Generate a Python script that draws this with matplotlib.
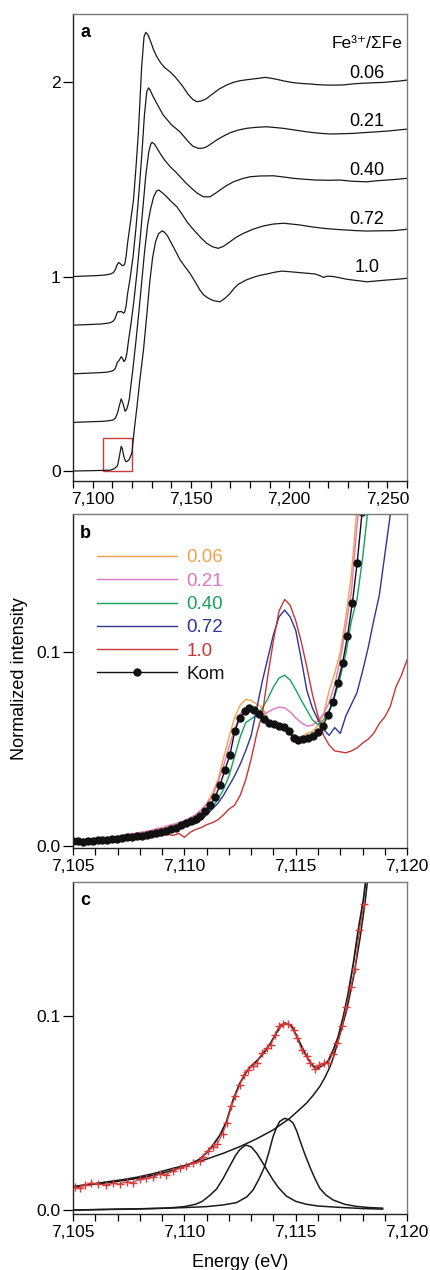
import matplotlib
matplotlib.use("Agg")
import matplotlib.pyplot as plt
import matplotlib.patches as patches
from matplotlib.ticker import MultipleLocator, FixedLocator, FuncFormatter

plt.rcParams['font.family'] = ['Liberation Sans', 'DejaVu Sans']

# ---------------- panel a : XANES spectra (normalized, offset) ----------------
ratios_a = ['0.06', '0.21', '0.40', '0.72', '1.0']

E_a_006 = [7090, 7095, 7100, 7104, 7107, 7109, 7110.5, 7111.5, 7112.5, 7113.2, 7114, 7114.8,
           7115.5, 7116.3, 7117, 7117.7, 7119, 7120.7, 7122, 7123.2, 7124.9, 7126.1, 7127,
           7128, 7129.2, 7130.8, 7132.6, 7134.5, 7136.5, 7139.3, 7141.9, 7145.3, 7148.7,
           7151, 7153, 7155, 7157.5, 7161.4, 7164.5, 7168.2, 7171.5, 7175, 7178.5, 7181.8,
           7185, 7187.7, 7190.5, 7193.6, 7197.5, 7202.1, 7206, 7210.5, 7214, 7217.3, 7222,
           7227.5, 7232, 7236, 7240, 7244.5, 7248, 7252.1, 7256, 7260]
I_a_006 = [0.0, 0.002, 0.004, 0.006, 0.009, 0.013, 0.02, 0.035, 0.062, 0.072, 0.066, 0.058,
           0.056, 0.064, 0.105, 0.17, 0.265, 0.39, 0.56, 0.736, 1.079, 1.233, 1.255,
           1.245, 1.216, 1.17, 1.13, 1.1, 1.075, 1.053, 1.027, 0.985, 0.935,
           0.91, 0.899, 0.902, 0.912, 0.942, 0.965, 0.985, 0.998, 1.007, 1.012, 1.016,
           1.02, 1.024, 1.02, 1.014, 1.005, 0.997, 0.993, 0.99, 0.987, 0.985, 0.984,
           0.985, 0.99, 0.993, 0.995, 0.997, 0.998, 1.002, 1.005, 1.01]

E_a_021 = [7090, 7095, 7100, 7104, 7107, 7109, 7110.5, 7111.5, 7112.3, 7113, 7113.6, 7114.4,
           7115, 7115.6, 7116.3, 7117, 7117.7, 7119, 7120.5, 7122, 7123.5, 7125, 7126.3,
           7127.5, 7128.4, 7129.2, 7130.5, 7132.6, 7135.9, 7140.2, 7144.4, 7148.7, 7151,
           7153.8, 7156, 7158, 7163.1, 7166.5, 7169.9, 7174, 7178.3, 7183, 7188.5, 7193,
           7197, 7203, 7208.9, 7215, 7220.7, 7226, 7232.6, 7238, 7244.5, 7250, 7255, 7260]
I_a_021 = [0.0, 0.002, 0.004, 0.006, 0.009, 0.013, 0.021, 0.037, 0.062, 0.071, 0.068, 0.071,
           0.067, 0.062, 0.068, 0.1, 0.16, 0.24, 0.35, 0.5, 0.68, 0.88, 1.08,
           1.2, 1.22, 1.209, 1.18, 1.14, 1.08, 1.029, 0.994, 0.943, 0.92,
           0.909, 0.91, 0.917, 0.952, 0.972, 0.989, 1.003, 1.012, 1.017, 1.02, 1.016,
           1.012, 1.003, 0.994, 0.987, 0.983, 0.984, 0.986, 0.99, 0.994, 0.998, 1.003, 1.008]

E_a_040 = [7090, 7095, 7100, 7104, 7107, 7109, 7110.5, 7111.5, 7112.5, 7113.3, 7114.5, 7115.2,
           7115.9, 7116.6, 7117.3, 7118.2, 7119.5, 7121, 7122.5, 7124, 7125.5, 7127, 7128.5,
           7129.5, 7130.2, 7131.5, 7134.3, 7136.5, 7139.4, 7142, 7144.5, 7147.5, 7150.4,
           7153, 7156.3, 7159.7, 7162, 7164.8, 7168, 7171.6, 7176, 7180.1, 7185, 7191.9,
           7197, 7202.1, 7208, 7214, 7220, 7225.9, 7232, 7239.5, 7244, 7249.6, 7255, 7260]
I_a_040 = [0.0, 0.002, 0.004, 0.006, 0.008, 0.012, 0.017, 0.028, 0.058, 0.067, 0.088, 0.078,
           0.063, 0.072, 0.1, 0.17, 0.26, 0.38, 0.52, 0.68, 0.85, 1.02, 1.14,
           1.18, 1.19, 1.18, 1.133, 1.1, 1.065, 1.04, 1.013, 0.98, 0.953,
           0.93, 0.91, 0.91, 0.925, 0.945, 0.967, 0.987, 1.003, 1.013, 1.017, 1.018,
           1.012, 1.005, 1.0, 0.996, 0.995, 0.996, 0.99, 0.987, 0.992, 0.996, 1.0, 1.005]

E_a_072 = [7090, 7095, 7100, 7104, 7107, 7109, 7110.5, 7111.5, 7112.6, 7113.5, 7114.5, 7115.3,
           7116.5, 7117.3, 7118, 7118.7, 7119.2, 7120.5, 7122, 7123.5, 7125, 7126.4, 7128,
           7129.5, 7131, 7132.5, 7133.6, 7135.5, 7137.7, 7140, 7142.8, 7145.5, 7147.9,
           7150.5, 7153, 7155.5, 7158, 7161, 7163.9, 7166.5, 7169.9, 7173, 7176.7, 7181.5,
           7186.8, 7192, 7197, 7201, 7205.5, 7211, 7217.4, 7223, 7229.3, 7234, 7239.5,
           7246, 7253, 7260]
I_a_072 = [0.0, 0.002, 0.004, 0.005, 0.007, 0.01, 0.013, 0.022, 0.048, 0.085, 0.121, 0.1,
           0.057, 0.068, 0.092, 0.126, 0.17, 0.28, 0.42, 0.57, 0.73, 0.88, 1.02,
           1.1, 1.16, 1.19, 1.195, 1.18, 1.16, 1.135, 1.109, 1.07, 1.032,
           1.0, 0.972, 0.945, 0.921, 0.903, 0.895, 0.905, 0.929, 0.952, 0.972, 0.993,
           1.01, 1.02, 1.024, 1.02, 1.015, 1.006, 0.998, 0.993, 0.989, 0.986, 0.984,
           0.985, 0.986, 0.993]

E_a_100 = [7090, 7095, 7100, 7104, 7108, 7109, 7111, 7112.5, 7113, 7113.7, 7114.5, 7115,
           7115.9, 7116.7, 7117.2, 7118.5, 7119.5, 7120, 7121, 7122.5, 7124, 7125.8, 7127.5,
           7129, 7130.5, 7132, 7133.5, 7135.3, 7136.5, 7138, 7141, 7144.5, 7147, 7149.5,
           7152, 7154.6, 7156.5, 7158.9, 7161.5, 7164.8, 7167.5, 7169.9, 7172, 7174.1,
           7178, 7181.8, 7185, 7188.6, 7192.5, 7196.2, 7200, 7205.5, 7209, 7213.2, 7215.5,
           7217.4, 7219.5, 7222.5, 7226, 7229.3, 7234, 7239.5, 7244, 7249.6, 7255, 7260]
I_a_100 = [0.0, 0.001, 0.002, 0.003, 0.004, 0.005, 0.012, 0.026, 0.045, 0.084, 0.127, 0.116,
           0.072, 0.05, 0.048, 0.058, 0.082, 0.097, 0.2, 0.33, 0.47, 0.62, 0.8,
           0.97, 1.1, 1.18, 1.22, 1.235, 1.228, 1.21, 1.153, 1.085, 1.05, 1.016,
           0.975, 0.93, 0.905, 0.888, 0.876, 0.87, 0.89, 0.913, 0.94, 0.96,
           0.982, 0.996, 1.006, 1.013, 1.022, 1.028, 1.025, 1.02, 1.017, 1.013, 1.005,
           0.996, 1.002, 1.0, 0.993, 0.986, 0.98, 0.973, 0.977, 0.982, 0.986, 0.991]

offsets_a = [1.0, 0.75, 0.5, 0.25, 0.0]

# ---------------- panel b : pre-edge region ----------------
E_b = [7105.0, 7105.25, 7105.5, 7105.75, 7106.0, 7106.25, 7106.5, 7106.75, 7107.0, 7107.25,
       7107.5, 7107.75, 7108.0, 7108.25, 7108.5, 7108.75, 7109.0, 7109.25, 7109.5, 7109.75,
       7110.0, 7110.25, 7110.5, 7110.75, 7111.0, 7111.25, 7111.5, 7111.75, 7112.0, 7112.25,
       7112.5, 7112.75, 7113.0, 7113.25, 7113.5, 7113.75, 7114.0, 7114.25, 7114.5, 7114.75,
       7115.0, 7115.25, 7115.5, 7115.75, 7116.0, 7116.25, 7116.5, 7116.75, 7117.0, 7117.25,
       7117.5, 7117.75, 7118.0, 7118.25, 7118.5, 7118.75, 7119.0, 7119.25, 7119.5, 7119.75,
       7120.0]
I_b_006 = [0.0028, 0.003, 0.0032, 0.0035, 0.0038, 0.004, 0.0045, 0.0045, 0.005, 0.0055,
           0.006, 0.0062, 0.0068, 0.0075, 0.0078, 0.0085, 0.009, 0.0098, 0.0105, 0.0115,
           0.0125, 0.014, 0.0158, 0.0185, 0.022, 0.027, 0.034, 0.045, 0.056, 0.066,
           0.0725, 0.0755, 0.075, 0.073, 0.0715, 0.0655, 0.063, 0.062, 0.0605, 0.0585,
           0.0565, 0.0562, 0.058, 0.059, 0.062, 0.068, 0.08, 0.089, 0.1, 0.118,
           0.14, 0.175, 0.2]
I_b_021 = [0.003, 0.0032, 0.0035, 0.0035, 0.004, 0.004, 0.0042, 0.0048, 0.005, 0.0055,
           0.006, 0.0065, 0.007, 0.0075, 0.008, 0.009, 0.0095, 0.0105, 0.0112, 0.012,
           0.013, 0.0145, 0.0162, 0.0185, 0.0215, 0.0255, 0.0325, 0.041, 0.051, 0.06,
           0.068, 0.0712, 0.0705, 0.068, 0.0675, 0.069, 0.0705, 0.0715, 0.0712, 0.069,
           0.066, 0.0635, 0.0618, 0.0622, 0.0645, 0.068, 0.074, 0.083, 0.096, 0.113,
           0.131, 0.165, 0.19]
I_b_040 = [0.0025, 0.0025, 0.003, 0.003, 0.0032, 0.0035, 0.004, 0.0038, 0.0045, 0.005,
           0.0052, 0.0058, 0.006, 0.0068, 0.007, 0.0078, 0.0085, 0.0092, 0.0098, 0.0108,
           0.0115, 0.0125, 0.0135, 0.0148, 0.017, 0.0198, 0.024, 0.029, 0.036, 0.046,
           0.056, 0.0635, 0.0655, 0.0675, 0.071, 0.076, 0.082, 0.0865, 0.088, 0.0855,
           0.0805, 0.075, 0.07, 0.065, 0.0625, 0.065, 0.07, 0.077, 0.087, 0.099,
           0.116, 0.127, 0.148, 0.174, 0.2]
I_b_072 = [0.0028, 0.003, 0.003, 0.0035, 0.0035, 0.004, 0.004, 0.0045, 0.0045, 0.005,
           0.0055, 0.0055, 0.006, 0.0065, 0.007, 0.0075, 0.008, 0.0085, 0.009, 0.0095,
           0.0105, 0.011, 0.0115, 0.0135, 0.016, 0.019, 0.022, 0.026, 0.031, 0.036,
           0.042, 0.049, 0.057, 0.071, 0.085, 0.097, 0.109, 0.118, 0.1215, 0.118,
           0.111, 0.096, 0.08, 0.071, 0.065, 0.06, 0.057, 0.061, 0.058, 0.067,
           0.073, 0.079, 0.09, 0.102, 0.116, 0.129, 0.15, 0.171, 0.19]
I_b_100 = [0.003, 0.003, 0.0025, 0.003, 0.003, 0.0035, 0.0035, 0.004, 0.004, 0.004,
           0.0045, 0.0045, 0.005, 0.0045, 0.005, 0.0048, 0.0055, 0.006, 0.0055, 0.0065,
           0.0045, 0.007, 0.0085, 0.0095, 0.011, 0.012, 0.0135, 0.016, 0.019, 0.021,
           0.026, 0.034, 0.045, 0.058, 0.068, 0.088, 0.106, 0.121, 0.127, 0.124,
           0.116, 0.105, 0.092, 0.078, 0.067, 0.057, 0.052, 0.049, 0.0485, 0.048,
           0.049, 0.0505, 0.053, 0.055, 0.058, 0.063, 0.0665, 0.072, 0.082, 0.088,
           0.096]
series_b = ['0.06', '0.21', '0.40', '0.72', '1.0']
colors_b = ['#f3a24b', '#e173c3', '#16a35c', '#2d3596', '#c93536']

E_kom = [7105.00, 7105.22, 7105.44, 7105.66, 7105.88, 7106.10, 7106.32, 7106.54, 7106.76,
         7106.98, 7107.20, 7107.42, 7107.64, 7107.86, 7108.08, 7108.30, 7108.52, 7108.74,
         7108.96, 7109.18, 7109.40, 7109.62, 7109.84, 7110.06, 7110.28, 7110.50, 7110.72,
         7110.94, 7111.16, 7111.38, 7111.60, 7111.82, 7112.04, 7112.26, 7112.48, 7112.70,
         7112.92, 7113.14, 7113.36, 7113.58, 7113.80, 7114.02, 7114.24, 7114.46, 7114.68,
         7114.90, 7115.12, 7115.34, 7115.56, 7115.78, 7116.00, 7116.22, 7116.44, 7116.66,
         7116.88, 7117.10, 7117.32, 7117.54, 7117.76, 7117.98]
I_kom = [0.0024, 0.0025, 0.0022, 0.0027, 0.0028, 0.0033, 0.0029, 0.0033, 0.0037,
         0.0036, 0.0042, 0.0045, 0.0047, 0.0050, 0.0054, 0.0058, 0.0063, 0.0066,
         0.0071, 0.0078, 0.0086, 0.0095, 0.0107, 0.0118, 0.0128, 0.0139, 0.0153,
         0.0178, 0.0212, 0.0252, 0.0315, 0.0392, 0.0468, 0.0590, 0.0660, 0.0695,
         0.0709, 0.0698, 0.0680, 0.0655, 0.0636, 0.0628, 0.0620, 0.0612, 0.0590,
         0.0555, 0.0545, 0.0553, 0.0556, 0.0567, 0.0585, 0.0618, 0.0675, 0.0740,
         0.0840, 0.0940, 0.1080, 0.1250, 0.1460, 0.1720]

# ---------------- panel c : pre-edge fit of Kom ----------------
E_c_data = [7105.07, 7105.3, 7105.52, 7105.82, 7106.12, 7106.5, 7106.8, 7107.1, 7107.4,
            7107.69, 7107.99, 7108.29, 7108.59, 7108.89, 7109.19, 7109.49, 7109.79, 7110.09,
            7110.39, 7110.69, 7110.84, 7111.06, 7111.29, 7111.47, 7111.71, 7111.89, 7112.11,
            7112.29, 7112.49, 7112.66, 7112.86, 7113.08, 7113.26, 7113.47, 7113.7, 7113.88,
            7114.07, 7114.26, 7114.44, 7114.67, 7114.9, 7115.07, 7115.27, 7115.49, 7115.64,
            7115.87, 7116.06, 7116.27, 7116.46, 7116.66, 7116.87, 7117.09, 7117.26, 7117.47,
            7117.66, 7117.86, 7118.07]
I_c_data = [0.012, 0.0112, 0.0129, 0.0141, 0.0134, 0.0129, 0.0137, 0.0134, 0.0146,
            0.0141, 0.0158, 0.0163, 0.0168, 0.0185, 0.018, 0.0203, 0.0215, 0.0227,
            0.0241, 0.025, 0.0275, 0.0306, 0.0323, 0.034, 0.0392, 0.0447, 0.0533,
            0.0588, 0.0644, 0.0696, 0.0722, 0.0742, 0.0756, 0.0808, 0.0833, 0.085,
            0.0902, 0.0948, 0.0959, 0.0959, 0.0924, 0.0885, 0.0821, 0.079, 0.0756,
            0.0725, 0.0747, 0.0756, 0.0756, 0.0804, 0.0859, 0.0945, 0.1045, 0.1148,
            0.124, 0.1443, 0.1576]

E_c_fit = [7105, 7105.5, 7106, 7106.5, 7107, 7107.5, 7108, 7108.5, 7109, 7109.5, 7110,
           7110.4, 7110.69, 7111, 7111.29, 7111.59, 7111.89, 7112.18, 7112.48, 7112.75,
           7112.95, 7113.23, 7113.47, 7113.7, 7113.85, 7114.15, 7114.35, 7114.52, 7114.7,
           7114.82, 7115.0, 7115.19, 7115.49, 7115.7, 7115.87, 7116.0, 7116.17, 7116.35,
           7116.46, 7116.69, 7116.91, 7117.14, 7117.36, 7117.59, 7117.81, 7118.04, 7118.2]
I_c_fit = [0.012, 0.0128, 0.0135, 0.0141, 0.0148, 0.0157, 0.0166, 0.0177, 0.019, 0.0205, 0.0225,
           0.0245, 0.0262, 0.0295, 0.0335, 0.0385, 0.0455, 0.0565, 0.065, 0.0705,
           0.0735, 0.0765, 0.0795, 0.083, 0.0855, 0.0915, 0.095, 0.0962, 0.0955,
           0.0945, 0.0905, 0.0859, 0.079, 0.0752, 0.0732, 0.0732, 0.0742, 0.0755,
           0.0768, 0.0825, 0.0893, 0.0997, 0.1117, 0.1271, 0.1443, 0.1598, 0.175]

E_c_bg = [7105, 7105.75, 7106.5, 7107.25, 7108, 7108.75, 7109.49, 7110.24, 7110.99, 7111.74,
          7112.48, 7113.23, 7113.98, 7114.73, 7115.1, 7115.48, 7115.78, 7116.08, 7116.3,
          7116.53, 7116.69, 7116.99, 7117.29, 7117.59, 7117.89, 7118.11, 7118.25]
I_c_bg = [0.012, 0.0132, 0.0145, 0.0157, 0.0172, 0.0192, 0.0215, 0.0236, 0.0262, 0.0292,
          0.0326, 0.0366, 0.0412, 0.0472, 0.051, 0.055, 0.059, 0.0636, 0.068,
          0.0735, 0.0785, 0.0905, 0.103, 0.1195, 0.14, 0.158, 0.172]

E_c_pk1 = [7105, 7106, 7107, 7108, 7109, 7109.5, 7110, 7110.5, 7110.8, 7111.1, 7111.44, 7111.75,
           7112.03, 7112.3, 7112.48, 7112.75, 7113.0, 7113.25, 7113.53, 7113.75, 7113.98,
           7114.25, 7114.58, 7115.0, 7115.48, 7116, 7116.98, 7118, 7118.9]
I_c_pk1 = [0.0, 0.0003, 0.0005, 0.0007, 0.001, 0.0013, 0.0018, 0.003, 0.0045, 0.0072, 0.0108,
           0.0165, 0.0225, 0.0282, 0.031, 0.0335, 0.0325, 0.0292, 0.0241, 0.0198, 0.0155,
           0.0112, 0.0072, 0.0045, 0.003, 0.0021, 0.0014, 0.0008, 0.0005]

E_c_pk2 = [7105, 7106, 7107, 7108, 7109, 7110, 7111, 7111.7, 7112.33, 7112.8, 7113.08, 7113.35,
           7113.6, 7113.8, 7113.98, 7114.15, 7114.28, 7114.5, 7114.7, 7114.88, 7115.05,
           7115.18, 7115.4, 7115.63, 7115.85, 7116.08, 7116.35, 7116.68, 7117.2, 7117.72,
           7118.3, 7118.9]
I_c_pk2 = [0.0, 0.0002, 0.0004, 0.0006, 0.0009, 0.0013, 0.0018, 0.0026, 0.0038, 0.0068, 0.0103,
           0.016, 0.0223, 0.03, 0.0378, 0.0428, 0.0456, 0.0472, 0.0465, 0.0448, 0.0405,
           0.0361, 0.029, 0.0223, 0.0165, 0.0112, 0.0078, 0.0052, 0.003, 0.0019,
           0.0013, 0.001]

FS = 12.5
comma = FuncFormatter(lambda v, p: f'{v:,.0f}')


def style_axes(ax):
    for side in ['top', 'right']:
        ax.spines[side].set_color('#7a7a7a')
    for side in ['left', 'bottom']:
        ax.spines[side].set_color('#222222')
    for sp in ax.spines.values():
        sp.set_linewidth(1.0)
    ax.tick_params(axis='both', which='both', direction='out', labelsize=FS, width=0.9,
                   top=False, right=False)
    ax.tick_params(axis='x', which='both', length=5, pad=3)
    ax.tick_params(axis='y', which='major', length=7, pad=2)


fig = plt.figure(figsize=(4.3, 12.7), dpi=100)
ax_a = fig.add_axes([0.170, 0.6213, 0.7767, 0.3677])
ax_b = fig.add_axes([0.170, 0.3323, 0.7767, 0.2630])
ax_c = fig.add_axes([0.170, 0.0441, 0.7767, 0.2618])

# ---- a ----
curves_a = [(E_a_006, I_a_006), (E_a_021, I_a_021), (E_a_040, I_a_040),
            (E_a_072, I_a_072), (E_a_100, I_a_100)]
for (E, I), off, lab in zip(curves_a, offsets_a, ratios_a):
    ax_a.plot(E, [v + off for v in I], color='#1a1a1a', lw=0.9)
    ax_a.text(7239.6, off + 1.045, lab, ha='center', va='center', fontsize=FS + 0.5)
ax_a.text(7239.6, 2.2, 'Fe³⁺/ΣFe', ha='center', va='center', fontsize=FS)
ax_a.add_patch(patches.Rectangle((7105, 0), 15, 0.17, fill=False, edgecolor='#cc3a3a', lw=1.0))
ax_a.set_xlim(7090, 7260)
ax_a.set_ylim(-0.051, 2.35)
ax_a.xaxis.set_major_locator(FixedLocator([7100, 7150, 7200, 7250]))
ax_a.xaxis.set_minor_locator(MultipleLocator(10))
ax_a.xaxis.set_major_formatter(comma)
ax_a.yaxis.set_major_locator(FixedLocator([0, 1, 2]))
style_axes(ax_a)
ax_a.text(0.021, 0.951, 'a', transform=ax_a.transAxes, fontsize=13, fontweight='bold',
          va='baseline')

# ---- b ----
for I, col, lab in zip([I_b_006, I_b_021, I_b_040, I_b_072, I_b_100], colors_b, series_b):
    ax_b.plot(E_b[:len(I)], I, color=col, lw=1.0, label=lab)
ax_b.plot(E_kom, I_kom, color='#111111', lw=1.0, marker='o', ms=5, label='Kom')
ax_b.set_xlim(7105, 7120)
ax_b.set_ylim(-0.001, 0.171)
ax_b.xaxis.set_major_locator(MultipleLocator(5))
ax_b.xaxis.set_minor_locator(MultipleLocator(1))
ax_b.xaxis.set_major_formatter(comma)
ax_b.yaxis.set_major_locator(FixedLocator([0.0, 0.1]))
ax_b.yaxis.set_major_formatter(FuncFormatter(lambda v, p: f'{v:.1f}'))
style_axes(ax_b)
leg = ax_b.legend(loc='upper left', bbox_to_anchor=(0.072, 0.894), frameon=False,
                  fontsize=13.5, handlelength=4.25, handletextpad=0.5, labelspacing=0.33,
                  borderaxespad=0, borderpad=0, labelcolor='linecolor')
ax_b.text(0.021, 0.928, 'b', transform=ax_b.transAxes, fontsize=13, fontweight='bold',
          va='baseline')

# ---- c ----
ax_c.plot(E_c_bg, I_c_bg, color='#1a1a1a', lw=1.1)
ax_c.plot(E_c_pk1, I_c_pk1, color='#1a1a1a', lw=1.1)
ax_c.plot(E_c_pk2, I_c_pk2, color='#1a1a1a', lw=1.1)
ax_c.plot(E_c_fit, I_c_fit, color='#1a1a1a', lw=1.3)
ax_c.plot(E_c_data, I_c_data, color='#d63a3a', lw=0.8, marker='+', ms=6, mew=1.0)
ax_c.set_xlim(7105, 7120)
ax_c.set_ylim(-0.002, 0.169)
ax_c.xaxis.set_major_locator(MultipleLocator(5))
ax_c.xaxis.set_minor_locator(MultipleLocator(1))
ax_c.xaxis.set_major_formatter(comma)
ax_c.yaxis.set_major_locator(FixedLocator([0.0, 0.1]))
ax_c.yaxis.set_major_formatter(FuncFormatter(lambda v, p: f'{v:.1f}'))
style_axes(ax_c)
ax_c.text(0.021, 0.929, 'c', transform=ax_c.transAxes, fontsize=13, fontweight='bold',
          va='baseline')

fig.text(0.0465, 0.4657, 'Normalized intensity', rotation=90, ha='center', va='center',
         fontsize=13)
fig.text(0.558, 0.002, 'Energy (eV)', ha='center', va='baseline', fontsize=13)

fig.savefig('out.png', dpi=100)
